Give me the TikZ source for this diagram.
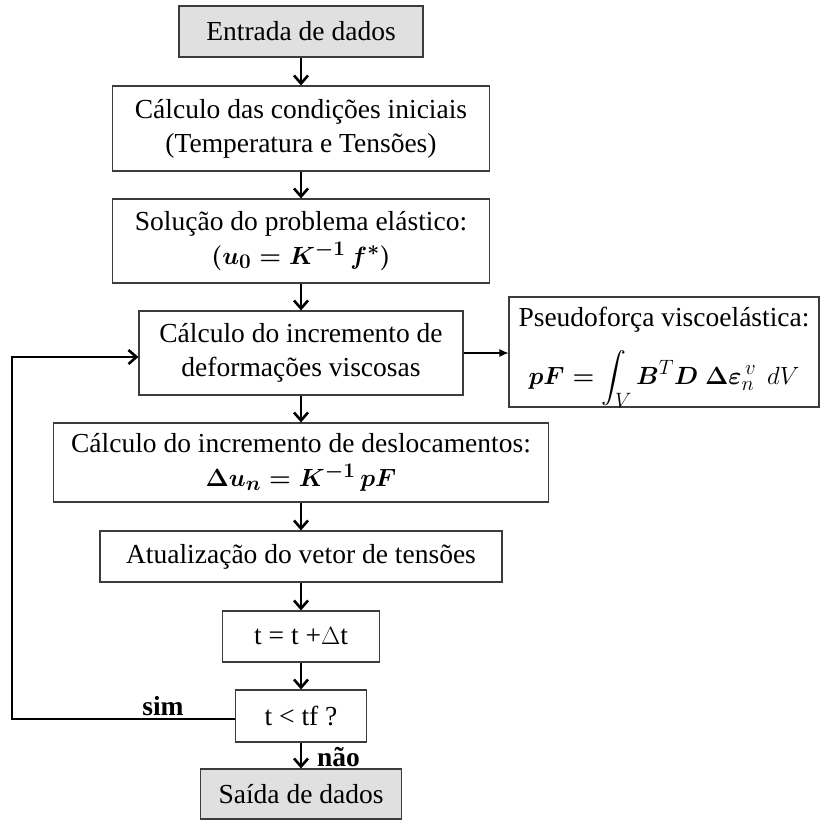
\documentclass[tikz,border=0pt]{standalone}
\usepackage{fontspec}
\setmainfont{Liberation Serif}
\usepackage{amsmath}
\usetikzlibrary{arrows.meta}
\definecolor{boxgray}{RGB}{224,224,224}
\definecolor{edgegray}{RGB}{60,60,60}
\begin{document}
\begin{tikzpicture}[x=1pt,y=-1pt,
  font=\fontsize{27.5}{34}\selectfont,
  box/.style={draw=edgegray, line width=1.1pt, inner sep=0pt, align=center},
  startbox/.style={box, fill=boxgray},
  flow/.style={line width=1.2pt, -{Straight Barb[length=8pt,width=14pt,line width=2.6pt]}},
  sidearrow/.style={line width=1.1pt, -{Latex[length=9pt,width=8pt]}},
  lbl/.style={inner sep=0pt, font=\fontsize{27.5}{34}\selectfont\bfseries}]
\useasboundingbox (0,0) rectangle (821,819);

\node[startbox, minimum width=244pt, minimum height=51pt] (n1) at (301,31.5) {Entrada de dados};
\node[box, minimum width=377pt, minimum height=85pt] (n2) at (301,128.5) {Cálculo das condições iniciais\\(Temperatura e Tensões)};
\node[box, minimum width=377pt, minimum height=84pt] (n3) at (301,241) {Solução do problema elástico:\\$\boldsymbol{(u_0 = K^{-1}\, f^{*})}$};
\node[box, minimum width=324pt, minimum height=84pt] (n4) at (301,353) {Cálculo do incremento de\\deformações viscosas};
\node[box, minimum width=310pt, minimum height=110pt] (n5) at (664,352) {};
\node[inner sep=0pt] (n5a) at (664,320) {Pseudoforça viscoelástica:};
\node[inner sep=0pt] (n5b) at (664,379) {$\boldsymbol{pF =} \displaystyle\int_V \boldsymbol{B}^{T}\boldsymbol{D}\;\boldsymbol{\Delta\varepsilon}_{n}^{\,v}\;\, dV$};
\node[box, minimum width=495pt, minimum height=79pt] (n6) at (301,462.5) {Cálculo do incremento de deslocamentos:\\$\boldsymbol{\Delta u_n = K^{-1}\, pF}$};
\node[box, minimum width=402pt, minimum height=51pt] (n7) at (301,556.5) {Atualização do vetor de tensões};
\node[box, minimum width=157pt, minimum height=51pt] (n8) at (301,636.5) {t = t +$\Delta$t};
\node[box, minimum width=131pt, minimum height=52pt] (n9) at (301,716) {t < tf ?};
\node[startbox, minimum width=201pt, minimum height=50pt] (n10) at (301,794) {Saída de dados};

\coordinate (c1) at (12,719);
\coordinate (c2) at (12,357);

\draw[flow] (n1.south) -- (n2.north);
\draw[flow] (n2.south) -- (n3.north);
\draw[flow] (n3.south) -- (n4.north);
\draw[flow] (n4.south) -- (n6.north);
\draw[flow] (n6.south) -- (n7.north);
\draw[flow] (n7.south) -- (n8.north);
\draw[flow] (n8.south) -- (n9.north);
\draw[flow] (n9.south) -- (n10.north);
\draw[sidearrow] (n4.east) -- (n4.east -| n5.west);
\draw[flow] (n9.west |- c1) -- (c1) -- (c2) -- (c2 -| n4.west);

\node[lbl, anchor=south] (sim) at (163,716) {sim};
\node[lbl, anchor=west] (nao) at (317,757) {não};
\end{tikzpicture}
\end{document}
